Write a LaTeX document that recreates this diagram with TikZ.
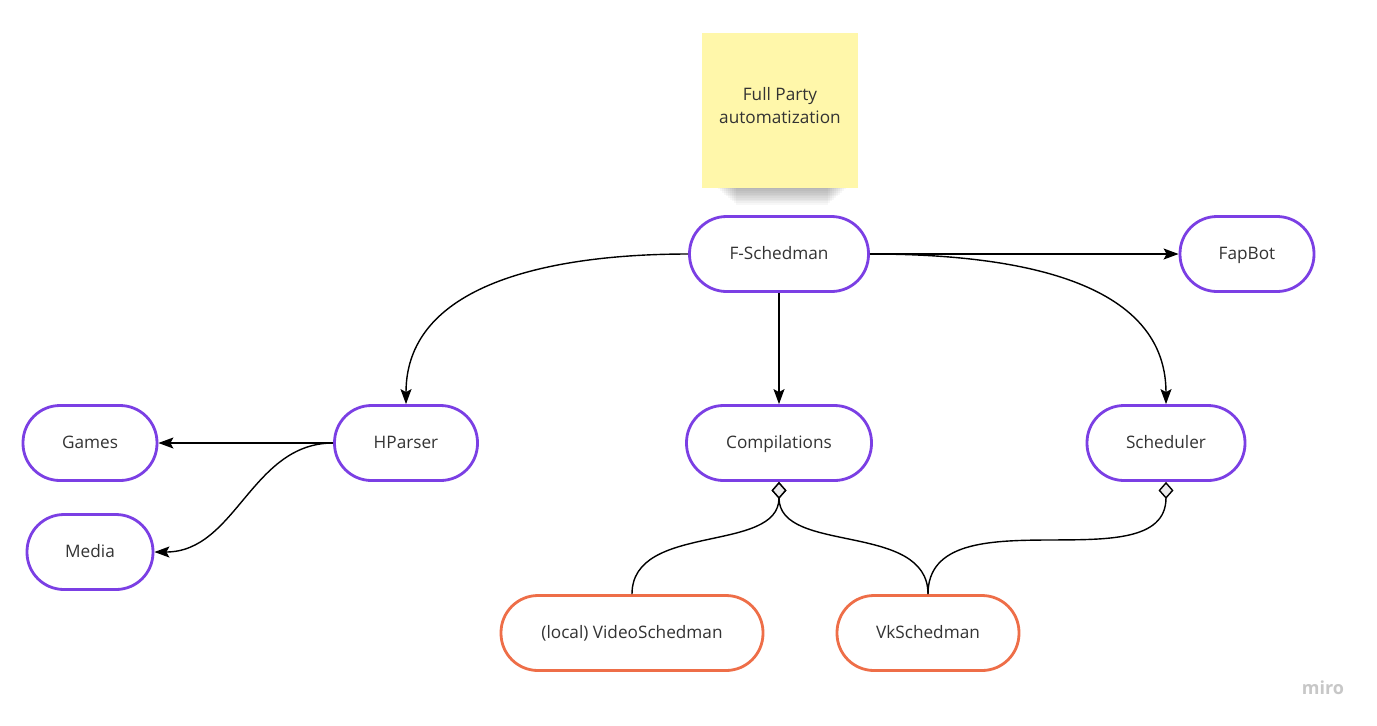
\documentclass[tikz,border=0pt]{standalone}
\usepackage{fontspec}
\setmainfont{Open Sans}
\usetikzlibrary{arrows.meta}
\definecolor{mpurple}{HTML}{7B3FE4}
\definecolor{morange}{HTML}{EE6E48}
\definecolor{sticky}{HTML}{FFF7AA}
\definecolor{txt}{HTML}{333333}
\begin{document}
\begin{tikzpicture}[x=0.5pt,y=-0.5pt,
 pill/.style={draw=mpurple, line width=1.4pt, rounded corners=18.5pt, minimum height=37.5pt, font=\fontsize{8.6}{10}\selectfont, text=txt, fill=white, inner sep=0pt, text height=7.4pt, text depth=1.9pt},
 opill/.style={pill, draw=morange},
 conn/.style={line width=0.7pt, -{Stealth[length=7.5pt,width=5.5pt,inset=1.5pt]}},
 agg/.style={line width=0.7pt, {Diamond[length=8.5pt,width=7.5pt,fill=black!8]}-}]
\useasboundingbox[fill=white] (0,0) rectangle (1377,725);
% sticky note shadow
\foreach \i in {0,...,11}
  \fill[black, opacity=0.03] (714+\i*2,180) rectangle (850-\i*2,186+\i*1.7);
\node[fill=sticky, minimum width=78pt, minimum height=77.5pt, inner sep=0pt] (note) at (780,110) {};
\node[align=center, inner sep=0pt, font=\fontsize{8.6}{11.5}\selectfont, text=txt] (notetext) at (780,106) {Full Party\\automatization};
% nodes
\node[pill, minimum width=89.5pt] (fs) at (779,254) {F-Schedman};
\node[pill, minimum width=67pt] (fb) at (1247,254) {FapBot};
\node[pill, minimum width=71.5pt] (hp) at (406,443) {HParser};
\node[pill, minimum width=92.5pt] (cp) at (779,443) {Compilations};
\node[pill, minimum width=79pt] (sc) at (1166,443) {Scheduler};
\node[pill, minimum width=67pt] (gm) at (90,443) {Games};
\node[pill, minimum width=63pt] (md) at (90,552) {Media};
\node[opill, minimum width=131pt] (vs) at (632,633) {(local) VideoSchedman};
\node[opill, minimum width=91pt] (vk) at (928,633) {VkSchedman};
% connectors
\draw[conn] (fs.west) to[out=180,in=90] (hp.north);
\draw[conn] (fs.south) -- (cp.north);
\draw[conn] (fs.east) -- (fb.west);
\draw[conn] (fs.east) to[out=0,in=90] (sc.north);
\draw[conn] (hp.west) -- (gm.east);
\draw[conn] (hp.west) to[out=180,in=0] (md.east);
\draw[agg] (cp.south) to[out=270,in=90] (vs.north);
\draw[agg] (cp.south) to[out=270,in=90] (vk.north);
\draw[agg] (sc.south) to[out=270,in=90] (vk.north);
\node[text=black!22, font=\bfseries\fontsize{9}{10}\selectfont] (miro) at (1323,688) {miro};
\end{tikzpicture}
\end{document}
